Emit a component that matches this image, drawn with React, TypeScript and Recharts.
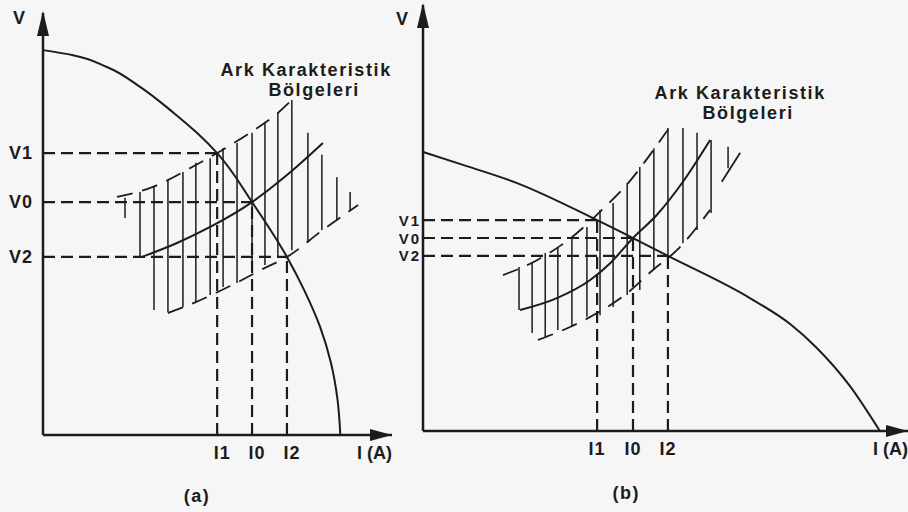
import React from "react";
import { ComposedChart, Line, XAxis, YAxis, ReferenceLine, ReferenceDot } from "recharts";

const INK = "#1c1c1c";
const FONT = "'Liberation Sans', Arial, Helvetica, sans-serif";

// ---------------- Panel (a) ----------------
const aSourceI = [0, 8.6, 18.3, 27.8, 37.2, 44.1, 49.9, 59.9, 69.9, 74.8, 79.4, 82.5, 84.4, 85.2];
const aSourceV = [91.2, 90.0, 87.2, 82.5, 76.5, 71.6, 66.8, 55.2, 42.2, 34.4, 25.6, 17.1, 8.3, 0];
const aArcI = [28.4, 38.4, 47.9, 59.9, 69.9, 80.2];
const aArcV = [42.2, 45.5, 49.3, 55.2, 61.6, 69.2];
const aUpperI = [21.2, 31.5, 43.8, 51.3, 59.3, 67.3, 71.3];
const aUpperV = [56.4, 58.8, 64.0, 67.5, 71.6, 76.3, 79.4];
const aLowerI = [35.8, 43.8, 53.6, 63.6, 69.9, 80.2, 90.3];
const aLowerV = [28.9, 31.5, 35.3, 39.6, 42.2, 48.6, 54.5];
const aHatchI = [23.5, 27.8, 31.8, 35.8, 40.1, 43.8, 47.9, 51.6, 55.6, 59.9, 63.6, 67.3, 71.3, 75.9, 79.9, 84.2, 88.0];
const aHatchTop = [56.2, 57.6, 58.8, 60.4, 62.3, 64.5, 65.6, 68.0, 69.2, 71.6, 74.2, 76.3, 79.4, 71.6, 66.4, 61.1, 57.6];
const aHatchBottom = [51.4, 42.2, 29.6, 29.1, 30.3, 31.5, 33.2, 35.1, 36.0, 38.4, 40.3, 42.2, 43.8, 45.7, 48.6, 50.9, 53.3];
const aOpV = [66.8, 55.2, 42.2]; // V1, V0, V2
const aOpI = [49.9, 59.9, 69.9]; // I1, I0, I2

// ---------------- Panel (b) ----------------
const bSourceI = [0, 7.6, 19.4, 35.9, 43.3, 50.5, 67.4, 75.7, 81.2, 88.0, 94.2];
const bSourceV = [65.5, 62.7, 58.2, 49.5, 45.3, 41.1, 31.2, 25.1, 19.5, 10.6, 0];
const bArcI = [20.0, 27.6, 34.4, 38.6, 43.3, 48.2, 53.6, 59.2];
const bArcV = [28.4, 31.2, 35.4, 39.4, 45.3, 50.7, 58.5, 68.3];
const bUpperI = [16.5, 23.5, 30.7, 36.9, 42.3, 47.8, 50.9];
const bUpperV = [36.6, 40.1, 45.5, 51.9, 58.2, 66.4, 71.4];
const bLowerI = [23.7, 30.3, 35.9, 41.6, 47.4, 52.4, 59.2];
const bLowerV = [21.4, 24.4, 27.7, 31.9, 37.8, 42.5, 51.9];
const bHatchI = [19.8, 22.5, 25.2, 27.8, 30.7, 33.8, 36.5, 39.2, 42.1, 44.7, 47.6, 50.5, 53.6, 56.5, 59.4, 62.9];
const bHatchTop = [38.5, 39.7, 41.8, 43.2, 45.3, 47.9, 51.9, 53.5, 58.2, 62.0, 66.4, 71.1, 71.1, 70.0, 68.3, 66.7];
const bHatchBottom = [28.4, 23.0, 22.1, 23.7, 24.4, 26.8, 27.2, 29.1, 31.9, 33.1, 37.8, 39.4, 44.1, 47.2, 51.2, 61.7];
const bStrayI = [61.6, 65.4];
const bStrayV = [58.5, 65.3];
const bOpV = [49.5, 45.3, 41.1]; // V1, V0, V2
const bOpI = [35.9, 43.3, 50.5]; // I1, I0, I2

// ---------------- Labels ----------------
const opVLabels = ["V1", "V0", "V2"];
const opILabels = ["I1", "I0", "I2"];
const axisVLabel = "V";
const axisILabel = "I (A)";
const titleLines = ["Ark Karakteristik", "Bölgeleri"];
const captions = ["(a)", "(b)"];

type Pt = { x: number; y: number };
const zip = (xs: number[], ys: number[]): Pt[] => xs.map((x, i) => ({ x, y: ys[i] }));

const textStyle = { fontFamily: FONT, fontWeight: 700, fontSize: 18, fill: INK } as const;

type PanelCfg = {
  left: number;
  width: number;
  marginTop: number;
  marginRight: number;
  xAxisHeight: number;
  source: Pt[];
  sourceType: "monotoneX" | "monotoneY";
  arc: Pt[];
  upper: Pt[];
  lower: Pt[];
  hatchI: number[];
  hatchTop: number[];
  hatchBottom: number[];
  opI: number[];
  opV: number[];
  stray?: Pt[];
  vLabelDx: number;
  vLabelSize: number;
  vLabelSpacing: number;
  vAxisDx: number;
  vAxisDy: number;
  iLabelDx: number;
  caption: string;
  captionAt: Pt;
  titleAt: Pt;
};

function Panel(c: PanelCfg) {
  const yTicks = [...c.opV, 100];
  const xTicks = [...c.opI, 100];

  const YTick = (p: any) => {
    const v = p.payload.value;
    if (v === 100) {
      return (
        <text x={p.x + c.vAxisDx} y={p.y + c.vAxisDy} textAnchor="middle" dominantBaseline="central" {...textStyle}>
          {axisVLabel}
        </text>
      );
    }
    const i = c.opV.indexOf(v);
    return (
      <text
        x={p.x + c.vLabelDx}
        y={p.y}
        textAnchor="end"
        dominantBaseline="central"
        {...textStyle}
        fontSize={c.vLabelSize}
        letterSpacing={c.vLabelSpacing}
      >
        {opVLabels[i]}
      </text>
    );
  };

  const XTick = (p: any) => {
    const v = p.payload.value;
    if (v === 100) {
      return (
        <text x={p.x} y={p.y + 18} textAnchor="end" dominantBaseline="central" {...textStyle}>
          {axisILabel}
        </text>
      );
    }
    const i = c.opI.indexOf(v);
    return (
      <text x={p.x + c.iLabelDx} y={p.y + 18} textAnchor="middle" dominantBaseline="central" letterSpacing={1} {...textStyle}>
        {opILabels[i]}
      </text>
    );
  };

  const upArrow = (p: any) => (
    <polygon points={`${p.cx},${p.cy - 2} ${p.cx - 6},${p.cy + 23} ${p.cx + 6},${p.cy + 23}`} fill={INK} />
  );
  const rightArrow = (p: any) => (
    <polygon points={`${p.cx},${p.cy} ${p.cx - 22},${p.cy - 6} ${p.cx - 22},${p.cy + 6}`} fill={INK} />
  );
  const caption = (p: any) => (
    <text x={p.cx} y={p.cy} textAnchor="middle" dominantBaseline="central" letterSpacing={1.5} {...textStyle}>
      {c.caption}
    </text>
  );
  const title = (p: any) => (
    <text textAnchor="middle" {...textStyle} letterSpacing={1.6}>
      <tspan x={p.cx} y={p.cy} dominantBaseline="central">{titleLines[0]}</tspan>
      <tspan x={p.cx + 8} y={p.cy + 20} dominantBaseline="central">{titleLines[1]}</tspan>
    </text>
  );

  return (
    <div style={{ position: "absolute", left: c.left, top: 0 }}>
      <ComposedChart
        width={c.width}
        height={512}
        margin={{ top: c.marginTop, right: c.marginRight, left: 0, bottom: 0 }}
      >
        <XAxis
          type="number"
          dataKey="x"
          domain={[0, 100]}
          ticks={xTicks}
          interval={0}
          tick={XTick}
          tickLine={false}
          tickSize={0}
          tickMargin={0}
          height={c.xAxisHeight}
          axisLine={{ stroke: INK, strokeWidth: 2.5 }}
        />
        <YAxis
          type="number"
          dataKey="y"
          domain={[0, 100]}
          ticks={yTicks}
          interval={0}
          tick={YTick}
          tickLine={false}
          tickSize={0}
          tickMargin={0}
          width={43}
          axisLine={{ stroke: INK, strokeWidth: 2.5 }}
        />

        {c.opV.map((v, i) => (
          <ReferenceLine
            key={`h${i}`}
            segment={[{ x: 0, y: v }, { x: c.opI[i], y: v }]}
            stroke={INK}
            strokeWidth={2.2}
            strokeDasharray="12 6"
          />
        ))}
        {c.opI.map((x, i) => (
          <ReferenceLine
            key={`v${i}`}
            segment={[{ x, y: 0 }, { x, y: c.opV[i] }]}
            stroke={INK}
            strokeWidth={2.2}
            strokeDasharray="12 6"
          />
        ))}

        {c.hatchI.map((x, i) => (
          <ReferenceLine
            key={`hatch${i}`}
            segment={[{ x, y: c.hatchTop[i] }, { x, y: c.hatchBottom[i] }]}
            stroke={INK}
            strokeWidth={1.5}
          />
        ))}

        <Line data={c.upper} dataKey="y" type="monotone" stroke={INK} strokeWidth={1.8} strokeDasharray="16 10" dot={false} activeDot={false} isAnimationActive={false} />
        <Line data={c.lower} dataKey="y" type="monotone" stroke={INK} strokeWidth={1.8} strokeDasharray="16 10" dot={false} activeDot={false} isAnimationActive={false} />
        {c.stray ? (
          <Line data={c.stray} dataKey="y" type="linear" stroke={INK} strokeWidth={1.8} dot={false} activeDot={false} isAnimationActive={false} />
        ) : null}
        <Line data={c.arc} dataKey="y" type="monotone" stroke={INK} strokeWidth={2} dot={false} activeDot={false} isAnimationActive={false} />
        <Line data={c.source} dataKey="y" type={c.sourceType} stroke={INK} strokeWidth={2} dot={false} activeDot={false} isAnimationActive={false} />

        <ReferenceDot x={0} y={100} r={0} shape={upArrow} ifOverflow="visible" />
        <ReferenceDot x={100} y={0} r={0} shape={rightArrow} ifOverflow="visible" />
        <ReferenceDot x={c.titleAt.x} y={c.titleAt.y} r={0} shape={title} ifOverflow="visible" />
        <ReferenceDot x={c.captionAt.x} y={c.captionAt.y} r={0} shape={caption} ifOverflow="visible" />
      </ComposedChart>
    </div>
  );
}

export default function App() {
  return (
    <div style={{ position: "absolute", left: 0, top: 0, width: 908, height: 512, background: "#f6f6f6", overflow: "hidden" }}>
      <Panel
        left={0}
        width={400}
        marginTop={13}
        marginRight={8}
        xAxisHeight={77}
        source={zip(aSourceI, aSourceV)}
        sourceType="monotoneY"
        arc={zip(aArcI, aArcV)}
        upper={zip(aUpperI, aUpperV)}
        lower={zip(aLowerI, aLowerV)}
        hatchI={aHatchI}
        hatchTop={aHatchTop}
        hatchBottom={aHatchBottom}
        opI={aOpI}
        opV={aOpV}
        vLabelDx={-10}
        vLabelSize={18}
        vLabelSpacing={1}
        vAxisDx={-24}
        vAxisDy={5}
        iLabelDx={5}
        caption={captions[0]}
        captionAt={{ x: 44.1, y: -14.5 }}
        titleAt={{ x: 75.4, y: 86.5 }}
      />
      <Panel
        left={380}
        width={528}
        marginTop={5}
        marginRight={0}
        xAxisHeight={81}
        source={zip(bSourceI, bSourceV)}
        sourceType="monotoneX"
        arc={zip(bArcI, bArcV)}
        upper={zip(bUpperI, bUpperV)}
        lower={zip(bLowerI, bLowerV)}
        hatchI={bHatchI}
        hatchTop={bHatchTop}
        hatchBottom={bHatchBottom}
        opI={bOpI}
        opV={bOpV}
        stray={zip(bStrayI, bStrayV)}
        vLabelDx={-2}
        vLabelSize={15}
        vLabelSpacing={2}
        vAxisDx={-21}
        vAxisDy={14}
        iLabelDx={0}
        caption={captions[1]}
        captionAt={{ x: 41.9, y: -14.6 }}
        titleAt={{ x: 65.4, y: 79.3 }}
      />
    </div>
  );
}
